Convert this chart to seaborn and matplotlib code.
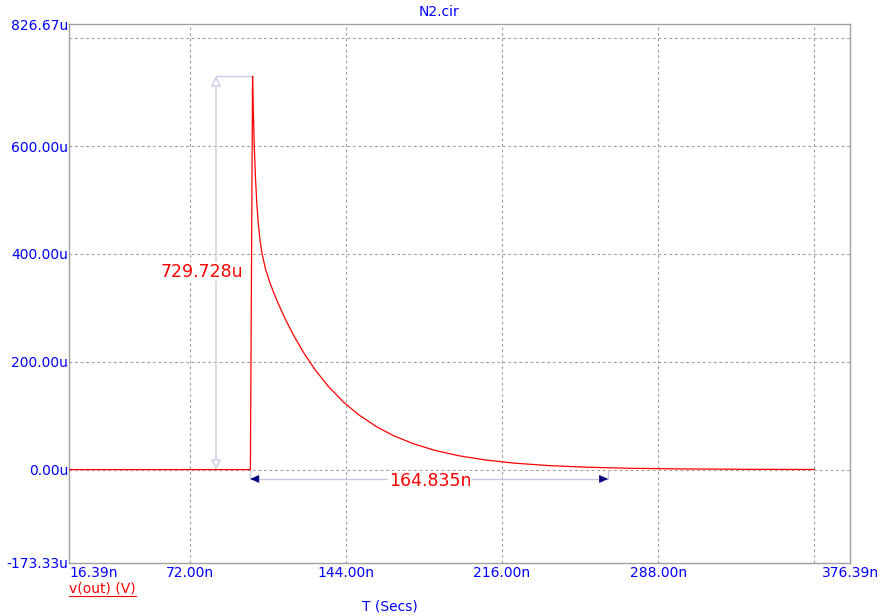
import matplotlib
matplotlib.use("Agg")
import matplotlib.pyplot as plt
import numpy as np
import pandas as pd
import seaborn as sns

sns.set_style("white")
plt.rcParams["font.family"] = ["DejaVu Sans"]

# Transient response of v(out): time in ns, voltage in uV
t_ns = [16.39, 100.0, 101.0, 101.4, 101.8, 102.3, 102.9, 103.6, 104.5, 105.5,
        107.0, 109.0, 112.0, 116.0, 120.0, 125.0, 130.0, 136.0, 143.0, 150.0,
        158.0, 166.0, 175.0, 185.0, 196.0, 208.0, 222.0, 238.0, 255.0, 275.0,
        300.0, 330.0, 360.0]
v_uV = [0.0, 0.0, 729.728, 657.0, 600.0, 545.3, 497.5, 458.1, 423.7, 398.0,
        371.8, 346.5, 315.6, 279.9, 248.4, 214.0, 184.3, 154.1, 125.0, 101.4,
        79.9, 62.9, 48.1, 35.7, 25.7, 18.0, 11.8, 7.3, 4.4, 2.4,
        1.2, 0.47, 0.19]

# Axis labelling
x_range = [16.39, 376.39]
y_range = [-173.33, 826.67]
x_tick_pos = [16.39, 72.0, 144.0, 216.0, 288.0, 376.39]
x_tick_labels = ["16.39n", "72.00n", "144.00n", "216.00n", "288.00n", "376.39n"]
x_grid = [72.0, 144.0, 216.0, 288.0, 360.0]
y_tick_pos = [-173.33, 0.0, 200.0, 400.0, 600.0, 826.67]
y_tick_labels = ["-173.33u", "0.00u", "200.00u", "400.00u", "600.00u", "826.67u"]
y_grid = [0.0, 200.0, 400.0, 600.0, 800.0]

# Cursor measurements
rise_time = 100.0
delta_t = 164.835

df = pd.DataFrame({"t": t_ns, "v": v_uV})
peak = max(v_uV)

BLUE = "#0000ff"
RED = "#ff0000"
GRID = "#a0a0a0"
CURSOR = "#c8c8e4"
NAVY = "#000080"
FS = 10

W, H = 883, 616
fig = plt.figure(figsize=(W / 100, H / 100), dpi=100)
ax = fig.add_axes([69 / W, 1 - 563 / H, (850 - 69) / W, (563 - 24) / H])

# dashed grid
for gx in x_grid:
    ax.axvline(gx, color=GRID, ls=(0, (2.5, 2.5)), lw=0.8, zorder=1)
for gy in y_grid:
    ax.axhline(gy, color=GRID, ls=(0, (2.5, 2.5)), lw=0.8, zorder=1)

sns.lineplot(data=df, x="t", y="v", color=RED, lw=0.9, ax=ax, legend=False,
             zorder=3)

ax.set_xlim(*x_range)
ax.set_ylim(*y_range)
ax.set_xticks(x_tick_pos)
ax.set_xticklabels(x_tick_labels)
ax.set_yticks(y_tick_pos)
ax.set_yticklabels(y_tick_labels)
ax.grid(False)
ax.tick_params(which="both", length=0, labelsize=FS, labelcolor=BLUE)
ax.tick_params(axis="x", pad=2.0)
ax.tick_params(axis="y", pad=0.5)
ax.get_xticklabels()[0].set_horizontalalignment("left")
ax.set_xlabel("")
ax.set_ylabel("")
for s in ax.spines.values():
    s.set_color(GRID)
    s.set_linewidth(1.0)
    s.set_visible(True)

# Vertical cursor: peak amplitude
x_meas = 84.15
ax.annotate("", xy=(x_meas, peak), xytext=(x_meas, 0.0),
            arrowprops=dict(arrowstyle="<|-|>,head_length=0.6,head_width=0.3",
                            fc="white", ec=CURSOR, lw=0.9,
                            shrinkA=0, shrinkB=0), zorder=2)
ax.plot([x_meas, t_ns[v_uV.index(peak)]], [peak, peak], color=CURSOR, lw=1.0,
        zorder=2)
ax.text(77.6, 367, f"{peak:.3f}u", color=RED, fontsize=12.5, ha="center",
        va="center", zorder=4,
        bbox=dict(fc="white", ec="none", pad=0.5))

# Horizontal cursor: decay time
y_meas = -17.4
t_end = rise_time + delta_t
ax.plot([rise_time, t_end], [y_meas, y_meas], color=CURSOR, lw=1.0, zorder=2)
ax.plot([t_end, t_end], [0.0, y_meas], color=CURSOR, lw=1.0, zorder=2)
ax.plot([rise_time, rise_time], [0.0, y_meas], color=CURSOR, lw=1.0, zorder=2)
for tip, tail in [(rise_time, rise_time + 3.2), (t_end, t_end - 3.2)]:
    ax.annotate("", xy=(tip, y_meas), xytext=(tail, y_meas),
                arrowprops=dict(arrowstyle="-|>,head_length=0.55,head_width=0.25",
                                fc=NAVY, ec=NAVY, lw=0.5,
                                shrinkA=0, shrinkB=0), zorder=3)
ax.text(182.8, -21.2, f"{delta_t:.3f}n", color=RED, fontsize=12.5,
        ha="center", va="center", zorder=4,
        bbox=dict(fc="white", ec="none", pad=0.5))

# Title, axis name and trace legend
fig.text(439 / W, 1 - 12 / H, "N2.cir", color=BLUE, fontsize=FS,
         ha="center", va="center")
fig.text(390 / W, 1 - 606 / H, "T (Secs)", color=BLUE, fontsize=FS,
         ha="center", va="center")
leg = fig.text(69 / W, 1 - 589 / H, "v(out) (V)", color=RED, fontsize=FS,
               ha="left", va="center")
fig.canvas.draw()
bb = leg.get_window_extent()
x0, x1 = bb.x0 / W, bb.x1 / W
yu = 1 - 595.5 / H
fig.add_artist(plt.Line2D([x0, x1], [yu, yu], color=RED, lw=0.8,
                          transform=fig.transFigure))

fig.savefig("out.png", dpi=100)
